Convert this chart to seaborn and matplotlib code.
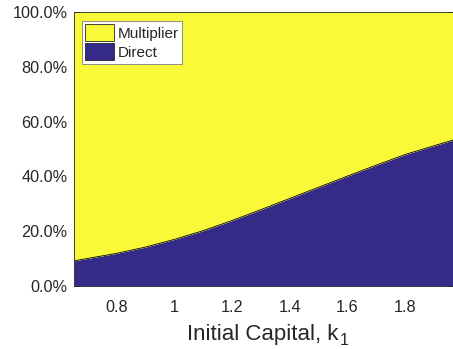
import numpy as np
import pandas as pd
import matplotlib
matplotlib.use("Agg")
import matplotlib.pyplot as plt
import seaborn as sns
from matplotlib.patches import Patch

# ---- data ----
capital = [0.654, 0.8, 0.9, 1.0, 1.1, 1.2, 1.3, 1.4, 1.5, 1.6, 1.7, 1.8, 1.9, 1.97]
direct_pct = [9.1, 11.8, 14.1, 16.9, 20.1, 23.8, 27.8, 31.9, 36.0, 40.1, 44.1, 48.0, 51.2, 53.4]
multiplier_pct = [100 - d for d in direct_pct]
series_names = ["Multiplier", "Direct"]
x_ticks = [0.8, 1.0, 1.2, 1.4, 1.6, 1.8]
x_tick_labels = ["0.8", "1", "1.2", "1.4", "1.6", "1.8"]
y_ticks = [0, 20, 40, 60, 80, 100]

df = pd.DataFrame({"k": capital, "Direct": direct_pct, "Multiplier": multiplier_pct})

sns.set_theme(style="white")
plt.rcParams["font.family"] = ["Liberation Sans", "DejaVu Sans"]

YELLOW = "#F9F93A"
NAVY = "#352A87"
DARK = "#262626"
W, H = 453, 349

fig = plt.figure(figsize=(W / 100, H / 100), dpi=100)
ax = fig.add_axes([74 / W, 1 - 285.7 / H, 1.003 - 74 / W, (285.7 - 12.3) / H])

top = df["Direct"] + df["Multiplier"]
ax.fill_between(df["k"], 0, df["Direct"], color=NAVY, linewidth=0)
ax.fill_between(df["k"], df["Direct"], top, color=YELLOW, linewidth=0)
sns.lineplot(data=df, x="k", y="Direct", ax=ax, color="black", linewidth=0.6, estimator=None)

ax.set_xlim(0.654, 1.97)
ax.set_ylim(0, 100)
ax.set_xticks(x_ticks)
ax.set_xticklabels(x_tick_labels)
ax.set_yticks(y_ticks)
ax.set_yticklabels([f"{v:.1f}%" for v in y_ticks])
ax.set_ylabel("")

ax.tick_params(axis="both", which="both", direction="in", length=4, width=0.6,
               colors=DARK, labelsize=11.7, top=True, right=True, bottom=True, left=True)
ax.tick_params(axis="y", pad=4.5)
ax.tick_params(axis="x", pad=10.5)
for s in ax.spines.values():
    s.set_visible(True)
    s.set_color(DARK)
    s.set_linewidth(0.6)

# x label: main text with baseline ~340 px from top, subscript added after it
lab = ax.set_xlabel("Initial Capital, k", fontsize=16, color=DARK)
lab.set_verticalalignment("baseline")
ax_h_px = 285.7 - 12.3
ax.xaxis.set_label_coords(0.495, -(340 - 285.7) / ax_h_px)

handles = [Patch(facecolor=YELLOW, edgecolor=DARK, linewidth=0.6),
           Patch(facecolor=NAVY, edgecolor=DARK, linewidth=0.6)]
leg = ax.legend(handles, series_names, loc="upper left", bbox_to_anchor=(0.02, 0.97),
                fontsize=11, frameon=True, fancybox=False, framealpha=1,
                handlelength=1.9, handleheight=1.3, handletextpad=0.2,
                borderpad=0.25, labelspacing=0.15, borderaxespad=0.0)
leg.get_frame().set_edgecolor("#7f7f7f")
leg.get_frame().set_linewidth(0.6)

fig.canvas.draw()
bb = lab.get_window_extent()
fig.text((bb.x1 + 1.5) / W, 4.0 / H, "1", fontsize=11.5, color=DARK, va="baseline", ha="left")

fig.savefig("out.png", dpi=100)
